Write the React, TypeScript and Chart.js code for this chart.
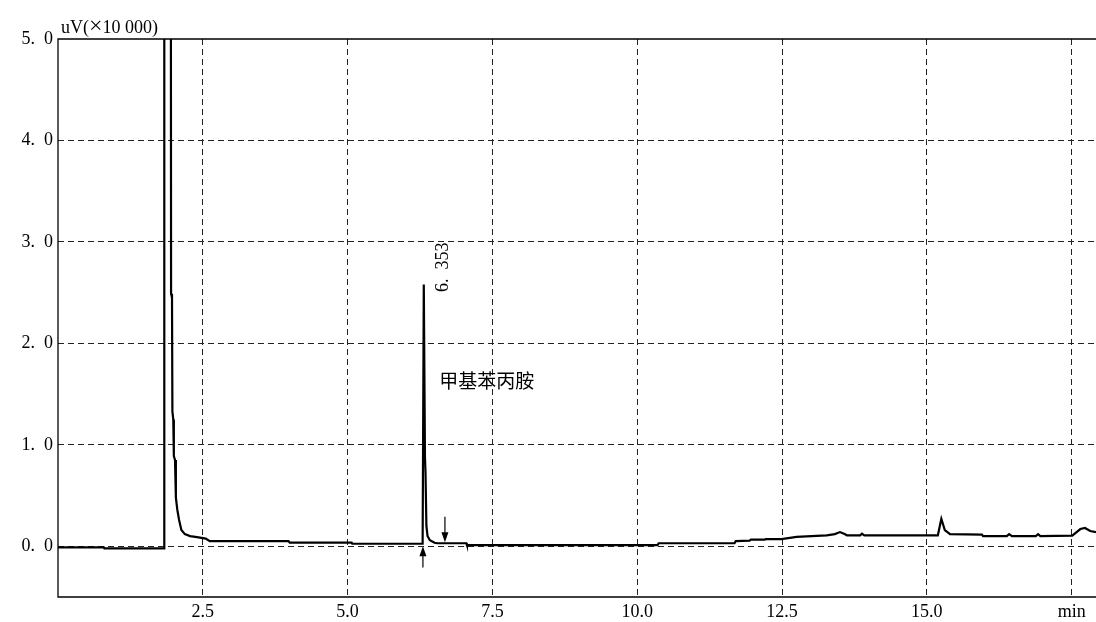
import React, { useEffect, useRef } from "react";
import { Chart, registerables } from "chart.js";

Chart.register(...registerables);

// retention time (min)
const retentionTime = [
  0.0, 0.79, 0.8, 1.83, 1.835, 1.945, 1.952, 1.968, 1.975, 1.99, 2.0, 2.02, 2.035, 2.06, 2.09, 2.13, 2.19,
  2.28, 2.4, 2.55, 2.62, 3.98, 4.0, 5.07, 5.08, 6.295, 6.315, 6.335, 6.345, 6.36, 6.38, 6.42, 6.5, 6.55,
  7.05, 7.06, 10.35, 10.37, 11.68, 11.7, 11.94, 11.96, 12.2, 12.22, 12.49, 12.75, 13.27, 13.41, 13.5,
  13.58, 13.62, 13.85, 13.88, 13.92, 15.19, 15.25, 15.31, 15.4, 15.95, 15.97, 16.38, 16.42, 16.47, 16.88,
  16.92, 16.96, 17.51, 17.65, 17.73, 17.82, 17.92,
];
// detector signal (uV x 10 000)
const signal = [
  -0.01, -0.01, -0.02, -0.02, 9.0, 9.0, 2.49, 2.45, 1.33, 1.25, 0.89, 0.85, 0.48, 0.36, 0.26, 0.16, 0.12,
  0.1, 0.09, 0.075, 0.05, 0.05, 0.035, 0.035, 0.025, 0.025, 2.58, 0.88, 0.72, 0.2, 0.1, 0.06, 0.035, 0.03,
  0.03, 0.012, 0.012, 0.03, 0.03, 0.05, 0.055, 0.066, 0.066, 0.07, 0.07, 0.092, 0.108, 0.12, 0.14, 0.12,
  0.108, 0.108, 0.125, 0.108, 0.108, 0.27, 0.16, 0.12, 0.115, 0.1, 0.1, 0.12, 0.1, 0.1, 0.12, 0.1, 0.105,
  0.17, 0.18, 0.15, 0.14,
];

const xTickValues = [2.5, 5.0, 7.5, 10.0, 12.5, 15.0, 17.5];
const xTickLabels = ["2.5", "5.0", "7.5", "10.0", "12.5", "15.0", "min"];
const yTickValues = [0, 1, 2, 3, 4, 5];
const yTickLabels = ["0.  0", "1.  0", "2.  0", "3.  0", "4.  0", "5.  0"];
const yAxisTitleParts = ["uV(", "×", "10 000)"];

const peakTime = 6.353;
const peakTimeLabel = "6.  353";
const peakLabelLevel = 2.75;
const compoundName = "甲基苯丙胺";
const compoundTime = 6.58;
const compoundLevel = 1.63;

const markerTimes = [6.3, 6.68];
const markerFrom = [-0.21, 0.29];
const markerTo = [0.0, 0.04];

const SERIF = "'Liberation Serif', 'DejaVu Serif', serif";
const CJK = "'Noto Sans CJK SC', 'Noto Sans', sans-serif";

const annotationPlugin = {
  id: "chromAnnotations",
  afterDraw(chart: any) {
    const { ctx, chartArea, scales } = chart;
    const xs = scales.x;
    const ys = scales.y;
    ctx.save();
    // frame
    ctx.strokeStyle = "#000";
    ctx.lineWidth = 1.3;
    ctx.setLineDash([]);
    ctx.beginPath();
    ctx.moveTo(chartArea.right, chartArea.top);
    ctx.lineTo(chartArea.left, chartArea.top);
    ctx.lineTo(chartArea.left, chartArea.bottom);
    ctx.lineTo(chartArea.right, chartArea.bottom);
    ctx.stroke();

    // y axis title
    ctx.fillStyle = "#000";
    ctx.textAlign = "left";
    ctx.textBaseline = "alphabetic";
    let tx = chartArea.left + 3;
    const ty = 33;
    ctx.font = `18px ${SERIF}`;
    ctx.fillText(yAxisTitleParts[0], tx, ty);
    tx += ctx.measureText(yAxisTitleParts[0]).width;
    ctx.font = `24px ${SERIF}`;
    ctx.fillText(yAxisTitleParts[1], tx, ty);
    tx += ctx.measureText(yAxisTitleParts[1]).width;
    ctx.font = `18px ${SERIF}`;
    ctx.fillText(yAxisTitleParts[2], tx, ty);

    // retention time label (rotated)
    const px = xs.getPixelForValue(peakTime) + 17;
    const py = ys.getPixelForValue(peakLabelLevel);
    ctx.save();
    ctx.translate(px, py);
    ctx.rotate(-Math.PI / 2);
    ctx.textAlign = "center";
    ctx.textBaseline = "middle";
    ctx.font = `18px ${SERIF}`;
    ctx.fillText(peakTimeLabel, 0, 0);
    ctx.restore();

    // compound name
    ctx.font = `19px ${CJK}`;
    ctx.textAlign = "left";
    ctx.textBaseline = "middle";
    ctx.fillText(compoundName, xs.getPixelForValue(compoundTime), ys.getPixelForValue(compoundLevel));

    // integration markers (arrows)
    ctx.lineWidth = 1.2;
    for (let i = 0; i < markerTimes.length; i++) {
      const ax = xs.getPixelForValue(markerTimes[i]);
      const y0 = ys.getPixelForValue(markerFrom[i]);
      const y1 = ys.getPixelForValue(markerTo[i]);
      const dir = y1 > y0 ? 1 : -1;
      ctx.beginPath();
      ctx.moveTo(ax, y0);
      ctx.lineTo(ax, y1 - dir * 6);
      ctx.stroke();
      ctx.beginPath();
      ctx.moveTo(ax, y1);
      ctx.lineTo(ax - 3.5, y1 - dir * 10);
      ctx.lineTo(ax + 3.5, y1 - dir * 10);
      ctx.closePath();
      ctx.fill();
    }
    ctx.restore();
  },
};

export default function App() {
  const canvasRef = useRef<HTMLCanvasElement | null>(null);

  useEffect(() => {
    document.body.style.margin = "0";
    const canvas = canvasRef.current;
    if (!canvas) return;
    const points = retentionTime.map((t, i) => ({ x: t, y: signal[i] }));
    const chart = new Chart(canvas, {
      type: "line",
      data: {
        datasets: [
          {
            data: points,
            borderColor: "#000",
            borderWidth: 2.2,
            pointRadius: 0,
            tension: 0,
            fill: false,
          },
        ],
      },
      options: {
        animation: false,
        responsive: true,
        maintainAspectRatio: false,
        layout: { padding: { top: 39, right: 0, bottom: 0, left: 0 } },
        plugins: {
          legend: { display: false },
          tooltip: { enabled: false },
        },
        scales: {
          x: {
            type: "linear",
            min: 0,
            max: 17.92,
            afterBuildTicks: (scale: any) => {
              scale.ticks = xTickValues.map((v) => ({ value: v }));
            },
            afterFit: (scale: any) => {
              scale.height = 25;
            },
            ticks: {
              autoSkip: false,
              maxRotation: 0,
              padding: 4,
              color: "#000",
              font: { family: SERIF, size: 18 },
              callback: (value: any) => {
                const idx = xTickValues.indexOf(Number(value));
                return idx >= 0 ? xTickLabels[idx] : "";
              },
            },
            grid: { drawTicks: false, color: "#222", lineWidth: 1 },
            border: { display: false, dash: [6, 4] },
          },
          y: {
            type: "linear",
            min: -0.5,
            max: 5.0,
            afterBuildTicks: (scale: any) => {
              scale.ticks = yTickValues.map((v) => ({ value: v }));
            },
            afterFit: (scale: any) => {
              scale.width = 58;
            },
            ticks: {
              autoSkip: false,
              padding: 5,
              color: "#000",
              font: { family: SERIF, size: 18 },
              callback: (value: any) => {
                const idx = yTickValues.indexOf(Number(value));
                return idx >= 0 ? yTickLabels[idx] : "";
              },
            },
            grid: {
              drawTicks: false,
              lineWidth: 1,
              color: (ctx: any) => (ctx.tick && ctx.tick.value === 5 ? "rgba(0,0,0,0)" : "#222"),
            },
            border: { display: false, dash: [6, 4] },
          },
        },
      },
      plugins: [annotationPlugin],
    });
    return () => chart.destroy();
  }, []);

  return (
    <div style={{ width: 1096, height: 622, position: "relative", background: "#fff" }}>
      <canvas ref={canvasRef} />
    </div>
  );
}
